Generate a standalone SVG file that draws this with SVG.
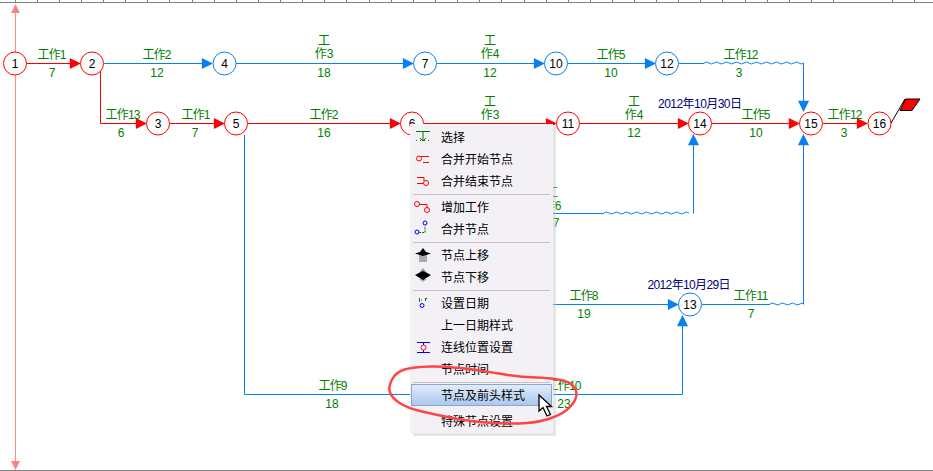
<svg xmlns="http://www.w3.org/2000/svg" width="933" height="471" viewBox="0 0 933 471">
<style>
text{font-family:"Liberation Sans","Noto Sans CJK SC",sans-serif}
.l{font-size:12px;fill:#008000;text-anchor:middle}
.d{font-size:12px;fill:#000080;text-anchor:middle}
.n{font-size:12px;fill:#000;text-anchor:middle}
.m{font-size:12px;fill:#000;font-family:"Noto Sans CJK SC",sans-serif}
.r{stroke:#f00;stroke-width:1;fill:none}
.b{stroke:#0a7ff5;stroke-width:1;fill:none}
.cr{stroke:#f00;fill:#fff}
.cb{stroke:#0a7ff5;fill:#fff}
</style>
<defs>
<path id="ar" d="M-9.500-4.500 L-0.500 0 L-9.500 4.500Z" fill="#f00" stroke="#f00" stroke-width="1.300"/>
<path id="ab" d="M-9.500-4.500 L-0.500 0 L-9.500 4.500Z" fill="#0a7ff5" stroke="#0a7ff5" stroke-width="1.300"/>
<linearGradient id="hl" x1="0" y1="0" x2="0" y2="1"><stop offset="0" stop-color="#e3ecfa"/><stop offset="1" stop-color="#a9c7ef"/></linearGradient>
</defs>
<rect width="933" height="471" fill="#fff"/>
<g id="ruler" stroke="#808080" fill="none">
<path d="M0 2.500H933M0 470.500H933"/>
<path d="M15.500 0V2M37.500 0V2M59.500 0V2M81.500 0V2M103.500 0V2M125.500 0V2M147.500 0V2M169.500 0V2M192.500 0V2M214.500 0V2M236.500 0V2M258.500 0V2M280.500 0V2M302.500 0V2M324.500 0V2M346.500 0V2M369.500 0V2M391.500 0V2M413.500 0V2M435.500 0V2M457.500 0V2M479.500 0V2M501.500 0V2M524.500 0V2M546.500 0V2M568.500 0V2M590.500 0V2M612.500 0V2M634.500 0V2M656.500 0V2M678.500 0V2M700.500 0V2M722.500 0V2M745.500 0V2M767.500 0V2M789.500 0V2M811.500 0V2M833.500 0V2M892.500 0V2M914.500 0V2"/>
</g>
<g id="axis">
<path d="M15.500 10V465" stroke="#ff8a8a" fill="none"/>
<path d="M15.500 4L20 13H11Z M15.500 470L20 461H11Z" fill="#ff8080"/>
</g>
<g id="connectors">
<path class="r" d="M26 63.500H80M100.500 63.500V123.500H146M170 123.500H224M248 123.500H400M424 123.500H556M580 123.500H688M712 123.500H799M823 123.500H867"/>
<path class="b" d="M104 63.500H212M236 63.500H413M437 63.500H544M568 63.500H655M679 63.500H704M803.500 63.500V111"/>
<path class="b" d="M704 63 q2.500 -2 5 0 t5 0 t5 0 t5 0 t5 0 t5 0 t5 0 t5 0 t5 0 t5 0 t5 0 t5 0 t5 0 t5 0 t5 0 t5 0 t5 0 t5 0 t5 0 t5 0"/>
<path class="b" d="M553 213.500H604M604 213 q2.500 -2 5 0 t5 0 t5 0 t5 0 t5 0 t5 0 t5 0 t5 0 t5 0 t5 0 t5 0 t5 0 t5 0 t5 0 t5 0 t5 0 t5 0 M693.500 213.500V135"/>
<path class="b" d="M553 304.500H678M702 304.500H770M770 304 q2.500 -2 5 0 t5 0 t5 0 t5 0 t5 0 t5 0 t3 0 M803.500 304.500V135"/>
<path class="b" d="M244.500 135V394.500H682.500V316"/>
<use href="#ar" x="80" y="63.500"/>
<use href="#ab" x="212" y="63.500"/>
<use href="#ab" x="413" y="63.500"/>
<use href="#ab" x="544" y="63.500"/>
<use href="#ab" x="655" y="63.500"/>
<use href="#ar" x="146" y="123.500"/>
<use href="#ar" x="224" y="123.500"/>
<use href="#ar" x="400" y="123.500"/>
<use href="#ar" x="556" y="123.500"/>
<use href="#ar" x="688" y="123.500"/>
<use href="#ar" x="799" y="123.500"/>
<use href="#ar" x="867" y="123.500"/>
<use href="#ab" x="678" y="304.500"/>
<use href="#ab" transform="translate(803.500 111) rotate(90)"/>
<use href="#ab" transform="translate(803.500 135) rotate(-90)"/>
<use href="#ab" transform="translate(693.500 135) rotate(-90)"/>
<use href="#ab" transform="translate(682.500 316) rotate(-90)"/>
</g>
<g id="labels">
<text class="l" x="52" y="59" textLength="29">工作1</text><text class="l" x="52" y="77">7</text>
<text class="l" x="157" y="59" textLength="29">工作2</text><text class="l" x="157" y="77">12</text>
<text class="l" y="45"><tspan x="324">工</tspan><tspan x="324" dy="13">作3</tspan></text><text class="l" x="324" y="77">18</text>
<text class="l" y="45"><tspan x="490">工</tspan><tspan x="490" dy="13">作4</tspan></text><text class="l" x="490" y="77">12</text>
<text class="l" x="611" y="59" textLength="29">工作5</text><text class="l" x="611" y="77">10</text>
<text class="l" x="741" y="59" textLength="35">工作12</text><text class="l" x="739" y="77">3</text>
<text class="l" x="123" y="119" textLength="35">工作13</text><text class="l" x="121" y="137">6</text>
<text class="l" x="196" y="119" textLength="29">工作1</text><text class="l" x="195" y="137">7</text>
<text class="l" x="324" y="119" textLength="29">工作2</text><text class="l" x="324" y="137">16</text>
<text class="l" y="106"><tspan x="490">工</tspan><tspan x="490" dy="13">作3</tspan></text><text class="l" x="490" y="137">12</text>
<text class="l" y="106"><tspan x="634">工</tspan><tspan x="634" dy="13">作4</tspan></text><text class="l" x="634" y="137">12</text>
<text class="l" x="756" y="119" textLength="29">工作5</text><text class="l" x="756" y="137">10</text>
<text class="l" x="845" y="119" textLength="35">工作12</text><text class="l" x="844" y="137">3</text>
<text class="l" x="584" y="300" textLength="29">工作8</text><text class="l" x="584" y="318">19</text>
<text class="l" x="751" y="300" textLength="35">工作11</text><text class="l" x="751" y="318">7</text>
<text class="l" x="333" y="390" textLength="29">工作9</text><text class="l" x="332" y="408">18</text>
<text class="l" x="564" y="390" textLength="35">工作10</text><text class="l" x="564" y="408">23</text>
<text class="l" y="197"><tspan x="552">工</tspan><tspan x="552" dy="13">作6</tspan></text><text class="l" x="556" y="227">7</text>
<text class="d" x="700" y="108" textLength="84">2012年10月30日</text>
<text class="d" x="689" y="289" textLength="83">2012年10月29日</text>
</g>
<g id="node1"><circle class="cr" cx="15" cy="63.500" r="11.500"/><text class="n" x="15" y="67.500">1</text></g>
<g id="node2"><circle class="cr" cx="92" cy="63.500" r="11.500"/><text class="n" x="92" y="67.500">2</text></g>
<g id="node4"><circle class="cb" cx="224.500" cy="63.500" r="11.500"/><text class="n" x="224.500" y="67.500">4</text></g>
<g id="node7"><circle class="cb" cx="425" cy="63.500" r="11.500"/><text class="n" x="425" y="67.500">7</text></g>
<g id="node10"><circle class="cb" cx="556" cy="63.500" r="11.500"/><text class="n" x="556" y="67.500">10</text></g>
<g id="node12"><circle class="cb" cx="667" cy="63.500" r="11.500"/><text class="n" x="667" y="67.500">12</text></g>
<g id="node3"><circle class="cr" cx="158" cy="123.500" r="11.500"/><text class="n" x="158" y="127.500">3</text></g>
<g id="node5"><circle class="cr" cx="236" cy="123.500" r="11.500"/><text class="n" x="236" y="127.500">5</text></g>
<g id="node6"><circle class="cr" cx="412" cy="123.500" r="11.500"/><text class="n" x="412" y="127.500">6</text></g>
<g id="node11"><circle class="cr" cx="568" cy="123.500" r="11.500"/><text class="n" x="568" y="127.500">11</text></g>
<g id="node14"><circle class="cr" cx="700" cy="123.500" r="11.500"/><text class="n" x="700" y="127.500">14</text></g>
<g id="node15"><circle class="cr" cx="811" cy="123.500" r="11.500"/><text class="n" x="811" y="127.500">15</text></g>
<g id="node16"><circle class="cr" cx="879.500" cy="123.500" r="11.500"/><text class="n" x="879.500" y="127.500">16</text>
<path d="M891 123L905 99" stroke="#000" fill="none"/><path d="M905.500 99H920L912 110.500H900Z" fill="#f00" stroke="#000"/></g>
<g id="node13"><circle class="cb" cx="690" cy="304.500" r="11.500"/><text class="n" x="690" y="308.500">13</text></g>
<g id="menu">
<rect x="413" y="127" width="143" height="309" fill="#ccc" opacity=".5"/>
<rect x="410" y="124" width="143" height="309" fill="#f3f1f5"/>
<path d="M413 194.500H550M413 242.500H550M413 290.500H550M413 382.500H550" stroke="#c4c2c6" fill="none"/>
<rect x="411.500" y="384.500" width="140" height="21" fill="url(#hl)" stroke="#8fa5c4"/>
<text class="m" x="441" y="142">选择</text>
<text class="m" x="441" y="164">合并开始节点</text>
<text class="m" x="441" y="186">合并结束节点</text>
<text class="m" x="441" y="212">增加工作</text>
<text class="m" x="441" y="234">合并节点</text>
<text class="m" x="441" y="260">节点上移</text>
<text class="m" x="441" y="282">节点下移</text>
<text class="m" x="441" y="308">设置日期</text>
<text class="m" x="441" y="330">上一日期样式</text>
<text class="m" x="441" y="352">连线位置设置</text>
<text class="m" x="441" y="374">节点时间</text>
<text class="m" x="441" y="400">节点及前头样式</text>
<text class="m" x="441" y="426">特殊节点设置</text>
<g id="icons" fill="none">
<path d="M416 131.500H430M423 132V140M420 138L423 141L426 138" stroke="#070"/><path d="M416 140.500H430" stroke="#070" stroke-dasharray="1 3"/>
<circle cx="419" cy="158.500" r="2.500" stroke="#f00"/><path d="M421 156.500H429M423 162.500H429" stroke="#f00"/>
<circle cx="426" cy="183" r="2.500" stroke="#f00"/><path d="M417 177.500H424V181M417 183.500H423" stroke="#f00"/>
<circle cx="417" cy="204" r="2.500" stroke="#f00"/><circle cx="427" cy="210" r="2.500" stroke="#f00"/><path d="M419 204.500H427V208" stroke="#f00"/>
<circle cx="417" cy="232" r="2" stroke="#00f"/><circle cx="425" cy="223" r="2" stroke="#00f"/><path d="M419 232.500H425V226" stroke="#070" stroke-dasharray="2 1"/>
<path d="M419 255H427V262H419Z" fill="#aaa"/><path d="M415 253.500L420 252L423 248L426 252L431 253.500L423 256Z" fill="#000"/>
<path d="M418 274L423 268L428 274Z" fill="#999"/><path d="M419 279H427L423 282Z" fill="#aaa"/><path d="M415 275L423 271L431 275L423 280Z" fill="#000"/>
<circle cx="422" cy="305.500" r="2" stroke="#00f"/><path d="M419.500 298V302M421 300H422M425.500 298V301M427 298L425 300" stroke="#070"/>
<path d="M417 342.500H430M417 352.500H430M423.500 343V352" stroke="#00f"/><circle cx="423.500" cy="347.500" r="2.500" stroke="#f00" fill="#fff"/>
</g>
</g>
<g id="annotation">
<path d="M392 379.500Q396 372 404.500 369.500Q413 367 430 366.500Q447 366 468.500 369Q490 372 505 374.500Q520 377 536.500 377.500Q553 378 562.500 380.500Q572 383 575 388.500Q578 394 575 400Q572 406 566 410.500Q560 415 550 418.500Q540 422 526.500 423Q513 424 493 423Q473 422 455 418.500Q437 415 422 411.500Q407 408 399.500 403Q392 398 390 392.500Q388 387 392 379.500Z" fill="none" stroke="#f44" stroke-width="2.500"/>
</g>
<path id="cursor" d="M539 395V411L543 407.500L547 416L550.500 414.500L546.500 406.500L551.500 406.500Z" fill="#fff" stroke="#000" stroke-width="1.300"/>
</svg>
